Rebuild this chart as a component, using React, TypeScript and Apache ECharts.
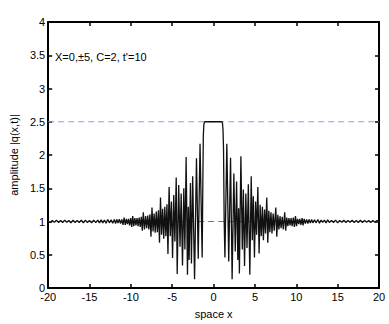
import React, { useEffect, useRef } from "react";
import * as echarts from "echarts";

const xTicks = [-20, -15, -10, -5, 0, 5, 10, 15, 20];
const yTicks = [0, 0.5, 1, 1.5, 2, 2.5, 3, 3.5, 4];

const leftTail: [number, number][] = [
  [-20, 1.0], [-19.75, 0.985], [-19.5, 1.015], [-19.25, 0.99], [-19.0, 1.02], [-18.75, 0.985],
  [-18.5, 1.015], [-18.25, 0.985], [-18.0, 1.02], [-17.75, 0.99], [-17.5, 1.015], [-17.25, 0.98],
  [-17.0, 1.02], [-16.75, 0.985], [-16.5, 1.015], [-16.25, 0.985], [-16.0, 1.02], [-15.75, 0.98],
  [-15.5, 1.02], [-15.25, 0.985], [-15.0, 1.015], [-14.75, 0.98], [-14.5, 1.02], [-14.25, 0.985],
  [-14.0, 1.02], [-13.8, 0.98], [-13.6, 1.025], [-13.4, 0.98], [-13.2, 1.02], [-13.0, 0.975],
  [-12.8, 1.03], [-12.6, 0.98], [-12.4, 1.025], [-12.2, 0.975], [-12.0, 1.03],
];

const leftWave: [number, number][] = [
  [-11.85, 0.97], [-11.7, 1.03], [-11.55, 0.975], [-11.4, 1.035], [-11.25, 0.97], [-11.1, 1.03],
  [-10.95, 0.95], [-10.82, 1.06], [-10.68, 0.95], [-10.55, 1.04], [-10.42, 0.96], [-10.29, 1.04],
  [-10.16, 0.94], [-10.03, 1.05], [-9.9, 0.92], [-9.78, 1.08], [-9.65, 0.93], [-9.52, 1.05],
  [-9.39, 0.94], [-9.26, 1.05], [-9.13, 0.93], [-9.0, 1.06], [-8.87, 0.92], [-8.74, 1.07],
  [-8.62, 0.86], [-8.5, 1.14], [-8.36, 0.88], [-8.22, 1.08], [-8.09, 0.9], [-7.96, 1.09],
  [-7.83, 0.88], [-7.7, 1.11], [-7.57, 0.77], [-7.45, 1.21], [-7.32, 0.85], [-7.19, 1.12],
  [-7.06, 0.83], [-6.93, 1.15], [-6.8, 0.84], [-6.67, 1.17], [-6.54, 0.68], [-6.42, 1.36],
  [-6.29, 0.8], [-6.16, 1.19], [-6.03, 0.74], [-5.9, 1.22], [-5.77, 0.78], [-5.64, 1.26],
  [-5.52, 0.51], [-5.38, 1.52], [-5.24, 0.78], [-5.1, 1.3], [-4.96, 0.45], [-4.82, 1.4],
  [-4.68, 0.7], [-4.52, 1.66], [-4.4, 0.21], [-4.22, 1.55], [-4.06, 0.62], [-3.92, 1.42],
  [-3.76, 0.34], [-3.6, 1.5], [-3.47, 0.58], [-3.32, 1.97], [-3.16, 0.2], [-3.06, 1.22],
  [-2.96, 0.42], [-2.8, 1.58], [-2.68, 0.37], [-2.53, 1.68], [-2.3, 0.13], [-2.07, 1.95],
  [-1.86, 0.44], [-1.64, 2.17], [-1.38, 0.46],
];

const plateau: [number, number][] = [
  [-1.3, 1.6], [-1.24, 2.3], [-1.17, 2.47], [-1.08, 2.5], [0, 2.5], [1.0, 2.5],
  [1.07, 2.48], [1.14, 2.38], [1.2, 2.1], [1.28, 1.0],
];

const rightWave: [number, number][] = [
  [1.37, 0.46], [1.6, 2.17], [1.83, 0.4], [2.05, 1.96], [2.24, 0.13], [2.45, 1.72],
  [2.62, 0.55], [2.78, 1.6], [2.93, 0.42], [3.03, 1.2], [3.12, 0.22], [3.3, 1.98],
  [3.47, 0.58], [3.6, 1.48], [3.74, 0.33], [3.9, 1.42], [4.04, 0.6], [4.2, 1.56],
  [4.38, 0.2], [4.55, 1.68], [4.68, 0.72], [4.8, 1.38], [4.94, 0.46], [5.08, 1.3],
  [5.2, 0.8], [5.35, 1.52], [5.5, 0.52], [5.63, 1.25], [5.76, 0.78], [5.9, 1.22],
  [6.02, 0.72], [6.16, 1.18], [6.28, 0.82], [6.43, 1.36], [6.55, 0.68], [6.68, 1.16],
  [6.8, 0.84], [6.94, 1.14], [7.06, 0.82], [7.2, 1.12], [7.33, 0.86], [7.52, 1.21],
  [7.64, 0.77], [7.77, 1.1], [7.9, 0.88], [8.03, 1.08], [8.16, 0.9], [8.3, 1.07],
  [8.43, 0.88], [8.6, 1.14], [8.72, 0.86], [8.85, 1.06], [8.98, 0.93], [9.11, 1.05],
  [9.24, 0.94], [9.37, 1.05], [9.5, 0.93], [9.64, 1.06], [9.77, 0.92], [9.9, 1.08],
  [10.03, 0.93], [10.16, 1.04], [10.3, 0.96], [10.43, 1.04], [10.56, 0.95], [10.7, 1.05],
  [10.82, 0.94], [10.95, 1.04], [11.1, 0.97], [11.25, 1.03], [11.4, 0.97], [11.55, 1.03],
  [11.7, 0.975], [11.85, 1.03], [12.0, 0.98],
];

const rightTail: [number, number][] = [
  [12.2, 1.025], [12.4, 0.98], [12.6, 1.03], [12.8, 0.975], [13.0, 1.02], [13.2, 0.985],
  [13.4, 1.02], [13.6, 0.98], [13.8, 1.025], [14.0, 0.985], [14.25, 1.015], [14.5, 0.985],
  [14.75, 1.02], [15.0, 0.98], [15.25, 1.015], [15.5, 0.99], [15.75, 1.02], [16.0, 0.985],
  [16.25, 1.015], [16.5, 0.99], [16.75, 1.02], [17.0, 0.985], [17.25, 1.015], [17.5, 0.985],
  [17.75, 1.02], [18.0, 0.985], [18.25, 1.015], [18.5, 0.99], [18.75, 1.015], [19.0, 0.985],
  [19.25, 1.015], [19.5, 0.99], [19.75, 1.015], [20.0, 1.0],
];

const upperLevel = 2.5;
const baseLevel = 1;
const annotation = "X=0,\u00b15, C=2, t'=10";
const xName = "space x";
const yName = "amplitude |q(x,t)|";

const FONT = "'Liberation Sans', Arial, Helvetica, sans-serif";

export default function App() {
  const ref = useRef<HTMLDivElement>(null);
  useEffect(() => {
    if (!ref.current) return;
    const chart = echarts.init(ref.current, null, { renderer: "svg" });
    const signal = [...leftTail, ...leftWave, ...plateau, ...rightWave, ...rightTail];
    const xMin = xTicks[0];
    const xMax = xTicks[xTicks.length - 1];
    const yMin = yTicks[0];
    const yMax = yTicks[yTicks.length - 1];
    const axisLine = { show: true, onZero: false, lineStyle: { color: "#000", width: 2 } };
    const axisTick = { show: true, inside: true, length: 4, lineStyle: { color: "#000", width: 1.5 } };
    chart.setOption({
      animation: false,
      grid: { left: 34, top: 22, width: 345, height: 272, show: false },
      xAxis: [
        {
          type: "value", min: xMin, max: xMax, interval: 5, position: "bottom",
          axisLine, axisTick, splitLine: { show: false },
          axisLabel: { color: "#000", fontSize: 11, fontFamily: FONT, margin: 3 },
          name: xName, nameLocation: "middle", nameGap: 20,
          nameTextStyle: { color: "#000", fontSize: 11, fontFamily: FONT },
        },
        {
          type: "value", min: xMin, max: xMax, interval: 5, position: "top",
          axisLine, axisTick, splitLine: { show: false }, axisLabel: { show: false },
        },
      ],
      yAxis: [
        {
          type: "value", min: yMin, max: yMax, interval: 0.5, position: "left",
          axisLine, axisTick, splitLine: { show: false },
          axisLabel: { color: "#000", fontSize: 11, fontFamily: FONT, margin: 3 },
          name: yName, nameLocation: "middle", nameGap: 26,
          nameTextStyle: { color: "#000", fontSize: 11, fontFamily: FONT },
        },
        {
          type: "value", min: yMin, max: yMax, interval: 0.5, position: "right",
          axisLine, axisTick, splitLine: { show: false }, axisLabel: { show: false },
        },
      ],
      series: [
        {
          type: "line", xAxisIndex: 0, yAxisIndex: 0, symbol: "none", silent: true,
          data: [[xMin, upperLevel], [xMax, upperLevel]],
          lineStyle: { color: "#8f98f2", width: 1.2, type: [6, 4] },
        },
        {
          type: "line", xAxisIndex: 0, yAxisIndex: 0, symbol: "none", silent: true,
          data: [[xMin, baseLevel], [xMax, baseLevel]],
          lineStyle: { color: "#e04848", width: 1.2, type: [6, 4] },
        },
        {
          type: "line", xAxisIndex: 0, yAxisIndex: 0, symbol: "none", silent: true,
          data: signal,
          lineStyle: { color: "#111", width: 1.3 },
        },
      ],
      graphic: [
        {
          type: "text", left: 55, top: 51,
          style: { text: annotation, fill: "#000", fontSize: 11, fontFamily: FONT },
        },
      ],
    });
    return () => chart.dispose();
  }, []);
  return (
    <div
      ref={ref}
      style={{ position: "absolute", left: 0, top: 0, width: 389, height: 324, background: "#fff" }}
    />
  );
}
